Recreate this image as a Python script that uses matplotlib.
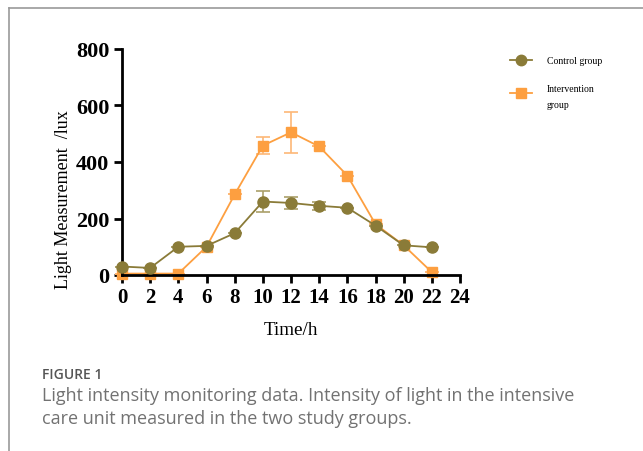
import matplotlib
matplotlib.use("Agg")
import matplotlib.pyplot as plt
from matplotlib.lines import Line2D

hours = [0, 2, 4, 6, 8, 10, 12, 14, 16, 18, 20, 22]
control = [30, 25, 100, 103, 148, 260, 255, 245, 238, 175, 105, 98]
control_err = [0, 0, 0, 0, 0, 38, 22, 15, 0, 0, 0, 0]
intervention = [5, 5, 5, 100, 285, 458, 505, 455, 352, 180, 105, 10]
intervention_err = [0, 0, 0, 0, 0, 30, 72, 0, 0, 0, 0, 0]
xticks = [0, 2, 4, 6, 8, 10, 12, 14, 16, 18, 20, 22, 24]
yticks = [0, 200, 400, 600, 800]

c_col = "#8a7b38"
i_col = "#fd9f40"
serif = ["Liberation Serif", "DejaVu Serif"]

fig = plt.figure(figsize=(6.43, 4.52), dpi=100)
W, H = 643, 452
ax = fig.add_axes([122 / W, 1 - 276 / H, (460 - 122) / W, (276 - 50) / H])

ax.errorbar(hours, intervention, yerr=intervention_err, color=i_col, marker="s",
            markersize=7.5, linewidth=1.3, elinewidth=1.2, capsize=5, capthick=1.2,
            ecolor="#fdb777", zorder=2, clip_on=False)
ax.errorbar(hours, control, yerr=control_err, color=c_col, marker="o",
            markersize=8, linewidth=1.3, elinewidth=1.2, capsize=5, capthick=1.2,
            ecolor="#aa9f6a", zorder=3, clip_on=False)

ax.set_xlim(0, 24)
ax.set_ylim(0, 800)
ax.set_xticks(xticks)
ax.set_yticks(yticks)
for s in ["top", "right"]:
    ax.spines[s].set_visible(False)
for s in ["left", "bottom"]:
    ax.spines[s].set_linewidth(2)
ax.tick_params(width=2, length=6, direction="out", pad=3)
for lab in ax.get_yticklabels():
    lab.set_fontfamily(serif)
    lab.set_fontweight("bold")
    lab.set_fontsize(16)
for lab in ax.get_xticklabels():
    lab.set_fontfamily(serif)
    lab.set_fontweight("bold")
    lab.set_fontsize(15)

ax.set_xlabel("Time/h", fontfamily=serif, fontsize=13.8, labelpad=10)
fig.text(64 / W, 1 - 200 / H, "Light Measurement  /lux", fontfamily=serif, fontsize=13,
         rotation=90, ha="center", va="center")

# legend
fig.add_artist(Line2D([510 / W, 532 / W], [1 - 61 / H, 1 - 61 / H], color=c_col, lw=1.3,
                      transform=fig.transFigure))
fig.add_artist(Line2D([521 / W], [1 - 61 / H], color=c_col, marker="o", markersize=7.5,
                      transform=fig.transFigure))
fig.add_artist(Line2D([510 / W, 532 / W], [1 - 94 / H, 1 - 94 / H], color=i_col, lw=1.3,
                      transform=fig.transFigure))
fig.add_artist(Line2D([521 / W], [1 - 94 / H], color=i_col, marker="s", markersize=7,
                      transform=fig.transFigure))
fig.text(547 / W, 1 - 61 / H, "Control group", fontfamily=serif, fontsize=7, va="center")
fig.text(547 / W, 1 - 89 / H, "Intervention", fontfamily=serif, fontsize=7, va="center")
fig.text(547 / W, 1 - 106 / H, "group", fontfamily=serif, fontsize=7, va="center")

# frame lines
fig.add_artist(Line2D([9 / W, 1], [1 - 9 / H, 1 - 9 / H], color="#9a9a9a", lw=1.2,
                      transform=fig.transFigure))
fig.add_artist(Line2D([9 / W, 9 / W], [1 - 9 / H, 0], color="#9a9a9a", lw=1.2,
                      transform=fig.transFigure))

# caption
fig.text(42 / W, 1 - 375 / H, "FIGURE 1", fontfamily="Open Sans", fontsize=10,
         fontweight="semibold", color="#555555", va="center")
fig.text(42 / W, 1 - 396 / H, "Light intensity monitoring data. Intensity of light in the intensive",
         fontfamily="Open Sans", fontsize=13, color="#727272", va="center")
fig.text(42 / W, 1 - 419 / H, "care unit measured in the two study groups.",
         fontfamily="Open Sans", fontsize=13, color="#727272", va="center")

fig.savefig("out.png", dpi=100)
